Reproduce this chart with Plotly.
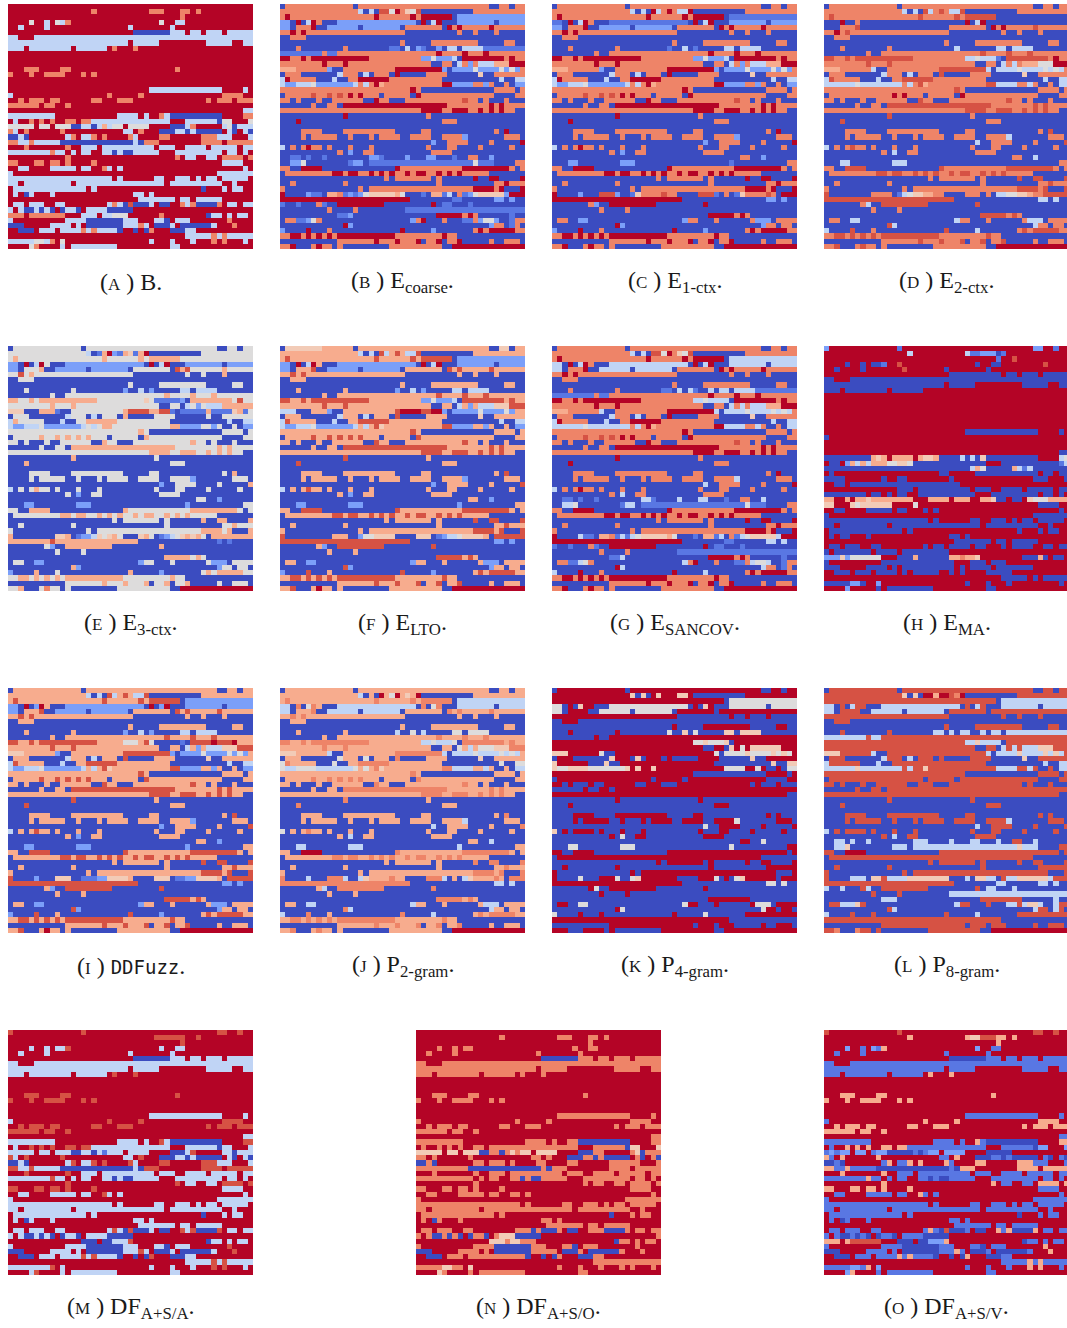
import re
import plotly.graph_objects as go

# Cell values, run-length coded per row (letter = shade, number = run).
# Panels that visibly share a row structure share a row list; each has its own
# shade table and its own list of rows read separately.
LEVELS = {"a": 0.0, "b": 0.1, "c": 0.2, "k": 0.3, "d": 0.4, "e": 0.5,
          "f": 0.6, "g": 0.7, "h": 0.8, "i": 0.9, "j": 1.0}
COOLWARM = ["#3b4cc0", "#5977e3", "#7b9ff9", "#9ebeff", "#c0d4f5", "#dddcdc",
            "#f2cbb7", "#f7ac8e", "#ee8468", "#d65244", "#b40426"]
N = 47

ROWS_A = """j47
j16h1j10h3j3h2j1h1j10
j33h1j13
j4e1j2d1j1e1d1h1j17e1j2d2j13
j2d1j4d1j15d1j7d1j15
j24a7d3j1d2j1d3j1d5
d2j3d42
d23j1d5j9d5j2d2
d3j1d8j1d6j1h1j3h1j22
j47
j47
j47
j3h3j4h2j20h1j14
h1j3h1j2h4j3h1j1h1j30
j47
j47
j27d14j4d1j1
d1j18h1j5h1j15h4j2
j2h1j1h3j1h2j6h2j3h3j14h1j1h3j1h3
h6j1h2j2h1j35
j45d2
d9j12d4j1d1j2h1d1a10j4h2
j1d1j2h1j1h1j1h1j2h2j1h2d15j3d6a1e2j3e1
e5j1e2j1e3a2d2a1d1g1d1e2j1e4j4a3d1h1j5d1e1a1d3
h1d1j1h1j6h1j11d2j1h1j3a3d2a1d1a5j1d1a1j1d1a1
a2d1a1j7d1h1j1d2h1j1h1j4h1d1j4h2j6h3d3j3d1
h2d2h1d5a14d1a1h3j8h4j1h5
j3h1j7h1j2d3j1d10j1d3j2d4j1d5j1d2
d8h1d2j1d1j1d2j2d2a1d1a2d5j3d9j1d2j1d1j1
j11h1j20h1j1d2j2d2j1h4j1h1
h2j3h2j1h2j1h1j4h1j24d4j2
j2d2j4d5j1d2j2h1d1j1d1j23d1j1
d1j39d7
d20j1d1j6d2j2d3j1d1j1d2j1d5j1
d2j1d9j1d17j1d10j2d1j3
j1d14j1d1j20a1j3d1j1d2j2
j1d1j1a1d1j3d1j15d2j1d1j19
j25d7j1d2j1d5j6
j1d2j1d3j2d2j8d1h1d1a1i1a3d1j1a2j2h1d1h1a4h1j1d2j1d1
d1j1d1a2d1a1d1a1j1a1d2a1j1d4a5j27d1
h3j1h7j3d3j1d2e3j6h1j8a1d2j1d1j1d2j1
d1j10d4a7d3j3d2a1j1d3j7h1j4
a3j5d4j1d1j1a7d3h1d1j1a3d1j1a6d1j3h1j2
j2a3j1d3j1d4h1d1h1d4a1j2a1j1a1h1j3a3d2j11
j34d5h1d1h1d5
d5e2d1h1j1e1j16d1j3d1j3d1j3h1j1h1j3d1j1
j4e1h1j4d1j1d9j10d2j14"""

ROWS_C = """a1h13a1h25a2h2a1h2
h15d1a1d1a1j1d1h1j1h1d2j1a10h10
h1j1h16j1h6j1h1j6a1b13
b2a1j1a1d1j1h1a3b15a1j1a1d1j1a3c7a1c5
c2a1h3j1a2c6a1c7a1h7a1j1h1j1h5j1h6
h2j1h1j1h19a10h1a2h1a3h1a5
a2h3a42
a23h1a5h9a5h2a2
a3h1a8h1a9b1a2d1a1b1a5d2a1d4a7
a8h1a2h19j1h4j1h3j1h7
j2h2j1h1j11h10c2e1c3d1a1j8h1j1h2
h8j1h3j1h16a2h2a1d1h1c1h1d3g3j3
g3h6c1a2h10j9c1a1c4e1c4e1c1e1c1h1
a1h3a7d1h3a1d1a1h3a1j1a5h4a6f1a2h6
d1j1h5a3d1a2h2j6h10a11d1a2d2
d1c2d3e1c7d1h1d1h1j1g1h11j2c4h2c1h1a2h1a1c2
h25j1h1a14h4a1h1
a1h5i1h2i1h1i1h1j1h1j1h3a1h5a1j1h14a4h2
h2a1h1a3h1a2h6a2j1h2a3h11i1h2a1h1a3h1a3
a6h1a2h2a1j20h8j1h1j1h4
h27j4h2j3h2j1h1j1h1j1h2a2
a12j1a15h1a18
a3j1a27h3a13
a47
a4h4a4h10a5h2a12h1a1j1a3
a4h1a1h5a2h1a3h1a1h4a2h4a2h4c1a7h3a1
a29c1a2h4a4h1a5j1
d1a1h1a1h1j1h2a1h1a3h1a3h1a10h1a3h2a4h1a5h1a2
a11h1a1c1a2h2a11h4a14
a36h2a2c1a6
a3c2a8c3a18b1a10h2
h2a2j4a14j1h12j9h1a1h1
a1h9j2h1j2h2j1h1j1h1j1h2j1h1j2h2j1h1j1h1j1h5a7
a20h1a1h7a1h1a6j1a2j2a4j1
a2h1a9h1a17h1a10h2j1h3
h1a14h1a1h20j4h1j1a3j1
j1a4c1a3i3c1a2b1f1h4i1h2a4i3b1a1h1a1b1f1h4i1h1a1j3
j25a16c2a1c1a2
a7h1c1a2j9a9j1a17
a9h1a4h1a32
a30j5h1j1h1a9
a1h2a2c2a18c1h2a3h1a6h1c3a1h4
a12j1c1a26c1h2a1h2a1
c1a4j1a3h1a13j1a5c1a7h1j1h1j5h2
h2j2h1j1h1j1h1j1h1j11h9j1h2a13
a11h7j1h3j1h3j1a1h2j1a1h2j1a5h1a2h3a1
h2j1a3h1j1h2a1h1a9h10a2j14"""

# Rows of the E-coarse panel where it differs from the E-1-ctx rows.
B_ROWS = {1: "h15d1a1d1a1i2e1j1h1f1e1i1a10h10",
          2: "h1j1h16j1h6j1h1j6a1c13",
          3: "c2a1j1a1d1j1h1a3c15a1j1a1d1j1a3c7a1c5",
          8: "a3h1a8h1a8b2a1d1a1c1b1a2c1a1d2a1d4b6",
          9: "b8h1b2h19j1h4j1h3j1h7",
          29: "a2b2a1b1a2b1a8c2b1a4c1a3c2a3b1a2h2a2c1a6",
          30: "a2c2e1a8b1c2a1b20e1b3a4h2",
          36: "j1a4c1b2a1g2h1b1c1b1c1e1f5g1e1a3b1a1g2b1d1a1h1b1c1e1f5c1j4",
          37: "j25a8b2a6c2a1c1a2",
          38: "b1a2b1a3h1b1a2j9a9j1a1b2a3b1a11",
          39: "a9h1a4h1a9b23",
          40: "a11b2c1a16j5h1j1h1a6b1a2",
          41: "a1h2b2c1e1h1a17c1h1j1a3h1a3b2h1c1e2c1a2b1h2",
          42: "a12j1c1a26c1h2a1b1h1a1"}
D_ROWS = {2: "h1i1h16i1h6i1h1i6a14",
          3: "a3j1a2h1a20j1a1d1j1a16",
          4: "a3h3i1a17h7a1j1h1j1h5i1h6",
          5: "h2j1h1i1h19a10h1a2h1a3h1a5",
          10: "i2h2i1h1i11h10d2e1d3b1a1i8h1j1h2",
          11: "h8i1h3i1h16a2h2a1d1h1d1h1g3e3j3",
          17: "a1h12j1h1j1h3a1h5a1j1h14a4h2",
          36: "i1a8h4a1b1d1e1f2g2h2a4h3a1h1a1d2e2f2g1h2i3",
          46: "h2i1a3h1i1h2a1h1a9h10a2j14"}
E_ROWS = {1: "e15d1a1b1g1j1c1b1g1f1b1g1j1a10e10",
          2: "e1g1e16g1e6g1e1g6e14",
          3: "c2a1j1a1d1j1e1a3c15a1j1a1d1j1a3c7a1c5",
          4: "c2a1e3g1a2c6a1c7a1e7a1i1g1i1e6g1e5",
          5: "e2i1e1g1e19a10e1a2e1a3g1a5",
          10: "g2e2g1e1g11e9f1e1b5c1a1g8e1i1e2",
          12: "f3a3g3b1a2e10g1i4g2i2b1a1b5g1b4f1g1b1e1",
          36: "g1a8f2g1a1b1c2d1f1e1f1g1e1a3f1g1e1a1b1c1d1e1f1g1f1g1e1a1g3",
          37: "g8i1g16a15b1a1b1a2",
          46: "e2g1a3e1h1e2a1e1a9e10a2j14"}
F_ROWS = {0: "a1f7g6a1g25a2f2a1g2",
          3: "c2a1j1a1d1j1g1a3c15a1j1a1d1j1a3c7a1c5",
          12: "d3a3g3c1a2g10i1j4i2j2c1a1c5e1c4e1c1g2",
          36: "i1a9g3a2c1e2f4a4f3a1b1c1d2e1f4g1a1i3",
          46: "g2i1a3g1j1g2a1g1a9g10a2j14"}
I_ROWS = {3: "c2a1j1a1c1j1g1a3c15a1j1a1c1j1a3c7a1c5",
          10: "i2g2i1g1i11g5e3g1i1e1a5b1a1i4j1i3j1g2",
          36: "i1a4c1a3f3a2b3c2f4g1a4f3a1b2c2f4g1a1i3",
          46: "g2i1a3g1j1g2a1g1a9g10a2j14"}
J_ROWS = {1: "g15d1a1g1a1j1g1e1j1g1f1g1j1a10g10",
          31: "g2a2j4a14h1g12h9g1a1g1",
          46: "g2h1a3g1h1g2a1g1a9g10a2j14"}
L_ROWS = {1: "i15f1a1f1a1j2g1j2i1h1j1a10i10",
          31: "i2a2j4a14i1i12i9i1a1i1",
          46: "i2h1a3h1i1i1a1i1a9i10a2j14"}
H_ROWS = {0: "c1j13b1j25c2j2b1j2",
          1: "j16d1j10d1b2c3a1b1j10",
          2: "j33b1j2i1j10",
          3: "j4a1j2a1j1a2b1j2i1j14a1j2a2j8i1j4",
          4: "j2a1j4a1j7i1j7a1j7a1j15",
          21: "a9g1f1g1j1g4j1g1f2g1a4d1a1d1a1f1a10j4d1e1",
          22: "j1a2j1c1g1d1g1d1g3e2f2e1a14j3a11b1d1",
          23: "a28d1g1e1a5g1d1b1d1a7",
          29: "g2j2g1j1g2f1g3g5j3g4j1g3j2g2f1a2j1a2j1f1e3g1",
          30: "f2j3f1e1f6j4e1j23a4j1",
          40: "c3f1c1e6j3a3g1a6g2h1g2f1j8a3g1a1j1a2j1"}
M_ROWS = {0: "i1j13i1j25i2j2i1j2",
          1: "j28i6j2i1j10",
          2: "j33i1j13",
          3: "j4d1j2d1j1d2i1j17d1j2d2j13",
          40: "j14a3j1a2d3i1j14a1d2j1d1j1d2j1"}
N_ROWS = {0: "j47",
          3: "j4h1j2h1j1h2j19h1j2h2j13",
          39: "h1j1h1a2h1a1h1a1j1a1h2a1j1h1f3a5j22h1",
          40: "j14f3h1f2h3j15a1h2j1h1j1h2j1"}
O_ROWS = {0: "i1j13i1j25i2j2i1j2",
          1: "j16g1j10g1f2i3g2j1g1j10",
          2: "j33g1j13",
          23: "b1c1b1c2j1c2j1b1c2a5b1a1b1c2j1c4j4a5j1",
          40: "g3j1g1i6j3a3j1a2c3g1j14a1b2j1b1j1b2j1"}

# Which shade each panel shows where the shared rows show another one.
SHADE_B = {}
SHADE_D = {"j": "i", "c": "d", "b": "a"}
SHADE_E = {"h": "e", "j": "g", "i": "g", "b": "c", "f": "e"}
SHADE_F = {"h": "g", "j": "i", "b": "c", "g": "f"}
SHADE_G = {"c": "d", "b": "b"}
SHADE_H = {"d": "a", "h": "j", "e": "c", "g": "j", "i": "j"}
SHADE_I = {"h": "g", "j": "i", "b": "c", "g": "f"}
SHADE_J = {"h": "g", "j": "h", "c": "d", "b": "d", "g": "f", "d": "e", "i": "h"}
SHADE_K = {"h": "j", "c": "e", "d": "f", "e": "f", "g": "f", "i": "j", "b": "e"}
SHADE_L = {"h": "i", "j": "i", "c": "d", "b": "d", "e": "f", "g": "f"}
SHADE_M = {"e": "d", "h": "i", "g": "b"}
SHADE_N = {"d": "h", "e": "f", "g": "f", "i": "h"}
SHADE_O = {"d": "b", "h": "g", "e": "c", "g": "c"}

ROWS_B = "\n".join(B_ROWS.get(i, r) for i, r in enumerate(ROWS_C.splitlines()))

PANELS = [(ROWS_A, {}, {}), (ROWS_C, SHADE_B, B_ROWS), (ROWS_C, {}, {}),
          (ROWS_C, SHADE_D, D_ROWS), (ROWS_C, SHADE_E, E_ROWS), (ROWS_C, SHADE_F, F_ROWS),
          (ROWS_B, SHADE_G, {}), (ROWS_A, SHADE_H, H_ROWS), (ROWS_C, SHADE_I, I_ROWS),
          (ROWS_C, SHADE_J, J_ROWS), (ROWS_C, SHADE_K, {}), (ROWS_B, SHADE_L, L_ROWS),
          (ROWS_A, SHADE_M, M_ROWS), (ROWS_A, SHADE_N, N_ROWS), (ROWS_A, SHADE_O, O_ROWS)]
LETTERS = list("ABCDEFGHIJKLMNO")
SUBS = ["B.", "E<sub>coarse</sub>.", "E<sub>1-ctx</sub>.", "E<sub>2-ctx</sub>.", "E<sub>3-ctx</sub>.",
        "E<sub>LTO</sub>.", "E<sub>SANCOV</sub>.", "E<sub>MA</sub>.",
        "<span style='font-family:DejaVu Sans Mono;font-size:19px'>DDFuzz</span>.",
        "P<sub>2-gram</sub>.", "P<sub>4-gram</sub>.", "P<sub>8-gram</sub>.",
        "DF<sub>A+S/A</sub>.", "DF<sub>A+S/O</sub>.", "DF<sub>A+S/V</sub>."]
X0 = [8, 280, 552, 824, 8, 280, 552, 824, 8, 280, 552, 824, 8, 416, 824]
Y0 = [4, 4, 4, 4, 346, 346, 346, 346, 688, 688, 688, 688, 1030, 1030, 1030]
W, H_ = 1067, 1328
SIDE = 245


def decode(base, shade, own):
    rows = []
    for i, line in enumerate(base.splitlines()):
        cells = []
        if i in own:
            pairs = [(c, int(n)) for c, n in re.findall(r"([a-k])(\d+)", own[i])]
        else:
            pairs = [(shade.get(c, c), int(n)) for c, n in re.findall(r"([a-k])(\d+)", line)]
        for c, n in pairs:
            cells += [LEVELS[c]] * n
        rows.append((cells + [cells[-1]] * N)[:N])
    return rows[:N]


fig = go.Figure()
colorscale = [[i / 10, c] for i, c in enumerate(COOLWARM)]
layout = {}
for i, (spec, x0, y0, letter, sub) in enumerate(zip(PANELS, X0, Y0, LETTERS, SUBS), start=1):
    name = "" if i == 1 else str(i)
    fig.add_trace(go.Heatmap(z=decode(*spec), colorscale=colorscale, zmin=0, zmax=1,
                             showscale=False, hoverinfo="skip", xaxis=f"x{name}", yaxis=f"y{name}"))
    x1 = min(x0 + SIDE, W)
    xmax = -0.5 + N * (x1 - x0) / SIDE
    layout[f"xaxis{name}"] = dict(domain=[x0 / W, x1 / W], range=[-0.5, xmax], visible=False)
    layout[f"yaxis{name}"] = dict(domain=[1 - (y0 + SIDE) / H_, 1 - y0 / H_], range=[N - 0.5, -0.5], visible=False)
    cap = f"(<span style='font-size:17px'>{letter}</span> ) {sub}"
    fig.add_annotation(x=(x0 + SIDE / 2) / W, y=1 - (y0 + 278) / H_, xref="paper", yref="paper",
                       text=cap, showarrow=False, xanchor="center", yanchor="middle",
                       font=dict(family="Liberation Serif", size=24, color="#1a1a1a"))
fig.update_layout(width=W, height=H_, margin=dict(l=0, r=0, t=0, b=0),
                  paper_bgcolor="white", plot_bgcolor="white", **layout)
fig.write_html("out.html", config={"displayModeBar": False},
               post_script="document.body.style.margin='0';document.documentElement.style.overflow='hidden';")
